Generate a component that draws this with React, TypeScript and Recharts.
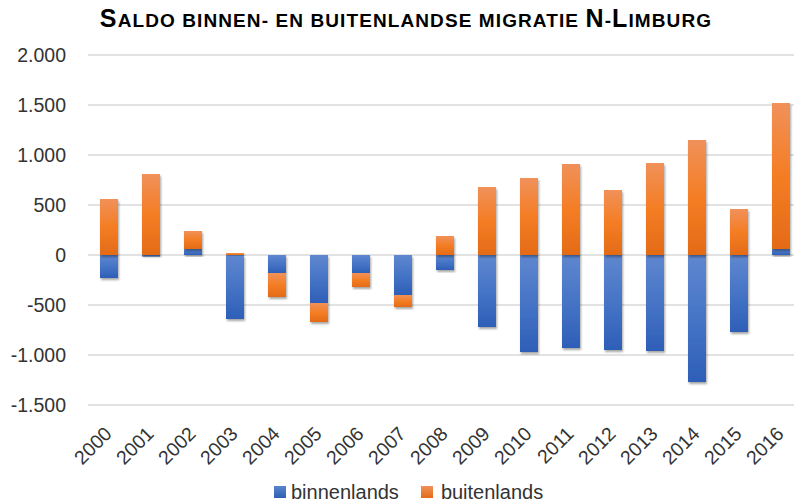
import React from 'react';
import { BarChart, Bar, XAxis, YAxis, CartesianGrid, Legend } from 'recharts';

const years = ['2000', '2001', '2002', '2003', '2004', '2005', '2006', '2007', '2008', '2009', '2010', '2011', '2012', '2013', '2014', '2015', '2016'];
const binnenlands = [-230, -15, 60, -640, -180, -480, -180, -400, -150, -720, -970, -930, -950, -960, -1270, -770, 60];
const buitenlands = [560, 810, 180, 20, -240, -190, -140, -120, 190, 680, 770, 910, 650, 920, 1150, 460, 1460];
const yTicks = [-1500, -1000, -500, 0, 500, 1000, 1500, 2000];
const seriesNames = ['binnenlands', 'buitenlands'];
const titleText = 'Saldo binnen- en buitenlandse migratie N-Limburg';

const data = years.map((y, i) => ({ year: y, binnenlands: binnenlands[i], buitenlands: buitenlands[i] }));

const FONT = '"Liberation Sans", Arial, sans-serif';

const fmt = (v: number) => {
  const s = Math.abs(v).toString();
  const withSep = s.length > 3 ? s.slice(0, s.length - 3) + '.' + s.slice(s.length - 3) : s;
  return (v < 0 ? '-' : '') + withSep;
};

// split title into runs: capitals (full size) vs. others (small caps)
const titleRuns = (() => {
  const runs: { big: boolean; text: string }[] = [];
  for (const ch of titleText) {
    const big = ch !== ch.toLowerCase();
    const last = runs[runs.length - 1];
    if (last && last.big === big) last.text += ch;
    else runs.push({ big, text: ch });
  }
  return runs;
})();

const YTick = (props: any) => {
  const { x, y, payload } = props;
  return (
    <text x={x - 22} y={y} dy="0.36em" textAnchor="end" fontFamily={FONT} fontSize={19.5} fill="#333">
      {fmt(payload.value)}
    </text>
  );
};

const XTick = (props: any) => {
  const { x, y, payload } = props;
  const ax = x + 4;
  const ay = y + 30;
  return (
    <text x={ax} y={ay} transform={`rotate(-45, ${ax}, ${ay})`} textAnchor="end" fontFamily={FONT} fontSize={19.5} fill="#333">
      {payload.value}
    </text>
  );
};

const makeShape = (gradId: string) => (props: any) => {
  const { x, y, width, height } = props;
  if (!height || !width) return <g />;
  const y0 = Math.min(y, y + height);
  const h = Math.abs(height);
  return (
    <g filter="url(#barShadow)">
      <rect x={x} y={y0} width={width} height={h} fill={`url(#${gradId})`} />
    </g>
  );
};

const LegendContent = () => (
  <div style={{ display: 'flex', alignItems: 'center', height: 24, paddingLeft: 274, fontFamily: FONT, fontSize: 20, color: '#333' }}>
    <span style={{ display: 'inline-block', width: 12, height: 12, background: 'linear-gradient(#5a85cd, #2f5fb5)', marginRight: 5 }} />
    <span style={{ marginRight: 22 }}>{seriesNames[0]}</span>
    <span style={{ display: 'inline-block', width: 12, height: 12, background: 'linear-gradient(#f0915a, #e36c17)', marginRight: 8 }} />
    <span>{seriesNames[1]}</span>
  </div>
);

export default function App() {
  return (
    <div style={{ position: 'absolute', left: 0, top: 0, width: 794, height: 504, overflow: 'hidden', background: '#fff' }}>
      <div
        style={{
          position: 'absolute',
          left: 0,
          top: 3,
          width: 812,
          textAlign: 'center',
          fontFamily: FONT,
          fontWeight: 'bold',
          fontSize: 25,
          color: '#000',
          lineHeight: '30px',
          whiteSpace: 'nowrap',
          letterSpacing: '1.1px',
        }}
      >
        {titleRuns.map((r, i) =>
          r.big ? (
            <span key={i}>{r.text}</span>
          ) : (
            <span key={i} style={{ fontSize: 19, textTransform: 'uppercase' }}>
              {r.text}
            </span>
          )
        )}
      </div>
      <BarChart
        width={810}
        height={504}
        data={data}
        stackOffset="sign"
        barSize={18}
        margin={{ top: 55, right: 8, bottom: 0, left: 0 }}
        style={{ position: 'absolute', left: 0, top: 0 }}
      >
        <defs>
          <linearGradient id="gBlue" x1="0" y1="0" x2="0" y2="1">
            <stop offset="0%" stopColor="#5f87cf" />
            <stop offset="50%" stopColor="#4674c6" />
            <stop offset="100%" stopColor="#2e5fb7" />
          </linearGradient>
          <linearGradient id="gOrange" x1="0" y1="0" x2="0" y2="1">
            <stop offset="0%" stopColor="#f0915a" />
            <stop offset="50%" stopColor="#f47d24" />
            <stop offset="100%" stopColor="#e46b17" />
          </linearGradient>
          <filter id="barShadow" x="-20%" y="-20%" width="140%" height="140%">
            <feDropShadow dx="1" dy="2" stdDeviation="1.2" floodColor="#000" floodOpacity="0.35" />
          </filter>
        </defs>
        <CartesianGrid vertical={false} stroke="#d9d9d9" strokeWidth={1.3} />
        <XAxis dataKey="year" axisLine={false} tickLine={false} tickSize={0} tickMargin={0} height={75} interval={0} tick={<XTick />} />
        <YAxis
          domain={[-1500, 2000]}
          ticks={yTicks}
          width={88}
          axisLine={false}
          tickLine={false}
          tickSize={0}
          tickMargin={0}
          tick={<YTick />}
          allowDataOverflow
        />
        <Legend verticalAlign="bottom" content={<LegendContent />} wrapperStyle={{ left: 0, width: 794, height: 24 }} />
        <Bar dataKey="binnenlands" stackId="a" fill="#4472c4" isAnimationActive={false} shape={makeShape('gBlue')} />
        <Bar dataKey="buitenlands" stackId="a" fill="#ed7d31" isAnimationActive={false} shape={makeShape('gOrange')} />
      </BarChart>
    </div>
  );
}
